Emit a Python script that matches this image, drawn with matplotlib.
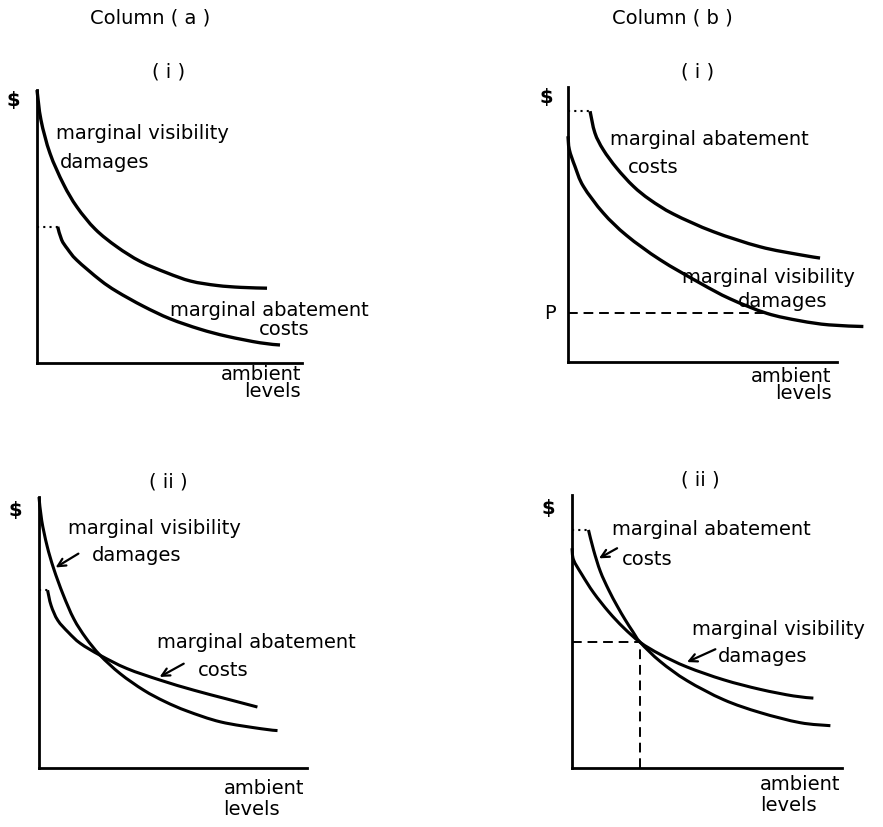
import matplotlib
matplotlib.use("Agg")
import matplotlib.pyplot as plt
from matplotlib.path import Path
from matplotlib.patches import PathPatch

W_PX, H_PX = 883, 827

# ---------------- data (axis units 0-10) ----------------
# Column (a) (i)
ai_damage_x = [0.0, 0.15, 0.49, 1.00, 1.51, 2.20, 3.01, 3.90, 4.91, 5.80, 6.79, 7.70, 8.68]
ai_damage_y = [10.0, 8.90, 7.68, 6.55, 5.71, 4.90, 4.26, 3.72, 3.30, 3.00, 2.84, 2.77, 2.74]
ai_abate_x = [0.78, 0.93, 1.15, 1.50, 2.38, 3.01, 4.01, 5.02, 6.15, 7.16, 8.42, 9.17]
ai_abate_y = [4.99, 4.51, 4.18, 3.77, 3.04, 2.62, 2.08, 1.62, 1.24, 0.98, 0.74, 0.66]

# Column (b) (i)
bi_abate_x = [0.82, 1.00, 1.31, 1.81, 2.43, 3.05, 3.92, 5.40, 7.14, 8.62, 9.37]
bi_abate_y = [9.12, 8.33, 7.72, 7.05, 6.39, 5.90, 5.38, 4.74, 4.19, 3.90, 3.78]
bi_damage_x = [0.0, 0.05, 0.26, 0.57, 1.31, 2.18, 3.42, 4.91, 6.02, 7.39, 8.62, 9.70, 10.98]
bi_damage_y = [8.21, 7.72, 7.11, 6.39, 5.42, 4.60, 3.72, 2.87, 2.30, 1.77, 1.50, 1.35, 1.29]
bi_price = 1.77
bi_price_x = 7.39

# Column (a) (ii)
aii_damage_x = [0.0, 0.10, 0.30, 0.55, 0.90, 1.30, 1.75, 2.28, 3.03, 3.91, 4.70, 5.53, 6.78, 8.28, 8.90]
aii_damage_y = [10.0, 9.14, 8.20, 7.35, 6.40, 5.50, 4.80, 4.16, 3.48, 2.87, 2.45, 2.10, 1.70, 1.45, 1.38]
aii_abate_x = [0.32, 0.45, 0.70, 1.10, 1.54, 2.28, 3.28, 4.53, 5.78, 7.00, 8.15]
aii_abate_y = [6.56, 6.00, 5.45, 5.00, 4.60, 4.16, 3.67, 3.24, 2.87, 2.55, 2.25]

# Column (b) (ii)
bii_damage_x = [0.0, 0.06, 0.37, 0.80, 1.36, 1.91, 2.53, 3.27, 4.26, 5.62, 6.97, 8.20, 8.94]
bii_damage_y = [8.05, 7.62, 7.08, 6.42, 5.72, 5.14, 4.60, 4.16, 3.70, 3.23, 2.88, 2.64, 2.56]
bii_abate_x = [0.61, 0.80, 1.05, 1.36, 1.67, 1.97, 2.25, 2.53, 3.27, 4.26, 5.62, 6.97, 8.45, 9.57]
bii_abate_y = [8.72, 7.98, 7.20, 6.52, 5.94, 5.43, 5.00, 4.60, 3.90, 3.20, 2.50, 2.03, 1.66, 1.55]
bii_eq_x = 2.53
bii_eq_y = 4.60

column_titles = ["Column ( a )", "Column ( b )"]
row_titles = ["( i )", "( ii )"]
lbl_damage = ["marginal visibility", "damages"]
lbl_abate = ["marginal abatement", "costs"]
lbl_x = "ambient\nlevels"
lbl_y = "$"

FS = 14
plt.rcParams["font.family"] = ["DejaVu Sans"]

fig = plt.figure(figsize=(W_PX / 100, H_PX / 100), dpi=100)


def make_ax(x0, ytop, x1, ybot):
    ax = fig.add_axes([x0 / W_PX, 1 - ybot / H_PX, (x1 - x0) / W_PX, (ybot - ytop) / H_PX])
    ax.set_xlim(0, 10)
    ax.set_ylim(0, 10)
    for s in ("top", "right"):
        ax.spines[s].set_visible(False)
    for s in ("left", "bottom"):
        ax.spines[s].set_linewidth(2.0)
    ax.set_xticks([])
    ax.set_yticks([])
    ax.patch.set_alpha(0)
    return ax


def curve(ax, x, y, lw=2.4):
    # smooth curve through the read points (Catmull-Rom drawn as cubic Beziers)
    pts = list(zip(x, y))
    n = len(pts)
    verts = [pts[0]]
    codes = [Path.MOVETO]
    for i in range(n - 1):
        p0 = pts[i - 1] if i > 0 else pts[i]
        p1 = pts[i]
        p2 = pts[i + 1]
        p3 = pts[i + 2] if i + 2 < n else pts[i + 1]
        c1 = (p1[0] + (p2[0] - p0[0]) / 6, p1[1] + (p2[1] - p0[1]) / 6)
        c2 = (p2[0] - (p3[0] - p1[0]) / 6, p2[1] - (p3[1] - p1[1]) / 6)
        verts += [c1, c2, p2]
        codes += [Path.CURVE4] * 3
    ax.add_patch(PathPatch(Path(verts, codes), fill=False, lw=lw, edgecolor="black",
                           clip_on=False, capstyle="butt"))


def txt(ax, x, y, s, ha="left", **kw):
    ax.text(x, y, s, ha=ha, va="center", fontsize=FS, clip_on=False, **kw)


def arrow(ax, x0, y0, x1, y1):
    ax.annotate("", xy=(x1, y1), xytext=(x0, y0),
                arrowprops=dict(arrowstyle="->", lw=1.6, color="black",
                                mutation_scale=14, shrinkA=0, shrinkB=0),
                annotation_clip=False)


def dotted(ax, x1, y):
    ax.plot([0, x1], [y, y], ls=(0, (1, 2)), color="black", lw=1.5, clip_on=False)


def dashed(ax, xs, ys):
    ax.plot(xs, ys, ls=(0, (5, 3)), color="black", lw=1.4, clip_on=False)


# ---- (a)(i)
ax = make_ax(37, 90, 302, 363)
curve(ax, ai_damage_x, ai_damage_y)
curve(ax, ai_abate_x, ai_abate_y)
dotted(ax, ai_abate_x[0], ai_abate_y[0])
txt(ax, 0.72, 8.39, lbl_damage[0])
txt(ax, 0.87, 7.36, lbl_damage[1])
txt(ax, 5.02, 1.94, lbl_abate[0])
txt(ax, 8.38, 1.21, lbl_abate[1])
txt(ax, 9.96, -0.73, lbl_x, ha="right", multialignment="right", linespacing=0.9)
txt(ax, -0.91, 9.63, lbl_y, ha="center", fontweight="bold")
txt(ax, 4.98, 10.66, row_titles[0], ha="center")

# ---- (b)(i)
ax = make_ax(568, 87, 837, 362)
curve(ax, bi_abate_x, bi_abate_y)
curve(ax, bi_damage_x, bi_damage_y)
dotted(ax, bi_abate_x[0], bi_abate_y[0])
dashed(ax, [0, bi_price_x], [bi_price, bi_price])
txt(ax, 1.56, 8.09, lbl_abate[0])
txt(ax, 2.23, 7.07, lbl_abate[1])
txt(ax, 4.23, 3.06, lbl_damage[0])
txt(ax, 6.32, 2.19, lbl_damage[1])
txt(ax, -0.67, bi_price, "P", ha="center")
txt(ax, 9.80, -0.84, lbl_x, ha="right", multialignment="right", linespacing=0.9)
txt(ax, -0.79, 9.61, lbl_y, ha="center", fontweight="bold")
txt(ax, 4.83, 10.56, row_titles[0], ha="center")

# ---- (a)(ii)
ax = make_ax(39, 497, 307, 768)
curve(ax, aii_damage_x, aii_damage_y, lw=2.2)
curve(ax, aii_abate_x, aii_abate_y, lw=2.2)
dotted(ax, aii_abate_x[0], aii_abate_y[0])
txt(ax, 1.09, 8.84, lbl_damage[0])
txt(ax, 1.99, 7.85, lbl_damage[1])
arrow(ax, 1.47, 7.91, 0.62, 7.40)
txt(ax, 4.42, 4.64, lbl_abate[0])
txt(ax, 5.92, 3.61, lbl_abate[1])
arrow(ax, 5.40, 3.85, 4.50, 3.36)
txt(ax, 9.89, -1.15, lbl_x, ha="right", multialignment="left", linespacing=1.1)
txt(ax, -0.90, 9.51, lbl_y, ha="center", fontweight="bold")
txt(ax, 4.83, 10.57, row_titles[1], ha="center")

# ---- (b)(ii)
ax = make_ax(572, 495, 842, 768)
curve(ax, bii_damage_x, bii_damage_y, lw=2.2)
curve(ax, bii_abate_x, bii_abate_y, lw=2.2)
dotted(ax, bii_abate_x[0], bii_abate_y[0])
dashed(ax, [0, bii_eq_x], [bii_eq_y, bii_eq_y])
dashed(ax, [bii_eq_x, bii_eq_x], [0, bii_eq_y])
txt(ax, 1.48, 8.72, lbl_abate[0])
txt(ax, 1.85, 7.62, lbl_abate[1])
arrow(ax, 1.67, 8.05, 1.00, 7.68)
txt(ax, 4.44, 5.06, lbl_damage[0])
txt(ax, 5.42, 4.08, lbl_damage[1])
arrow(ax, 5.31, 4.35, 4.26, 3.88)
txt(ax, 9.94, -0.98, lbl_x, ha="right", multialignment="left", linespacing=1.1)
txt(ax, -0.87, 9.51, lbl_y, ha="center", fontweight="bold")
txt(ax, 4.75, 10.55, row_titles[1], ha="center")

# column headings
fig.text(150 / W_PX, 1 - 18 / H_PX, column_titles[0], ha="center", va="center", fontsize=FS)
fig.text(672 / W_PX, 1 - 18 / H_PX, column_titles[1], ha="center", va="center", fontsize=FS)

fig.savefig("out.png", dpi=100, facecolor="white")
